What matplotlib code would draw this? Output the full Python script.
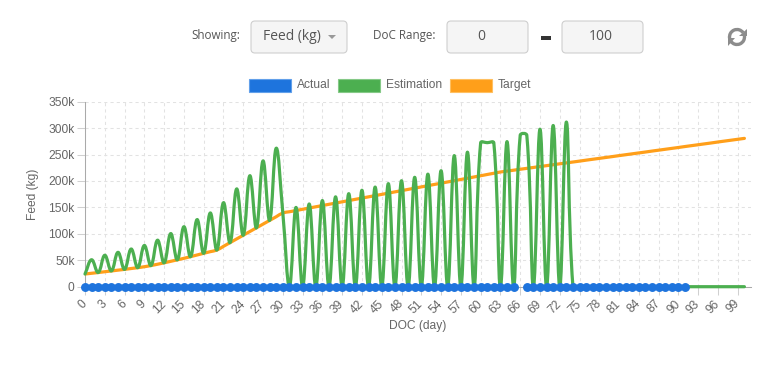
import numpy as np
import matplotlib
matplotlib.use("Agg")
import matplotlib.pyplot as plt
from matplotlib.path import Path
from matplotlib.patches import PathPatch, FancyBboxPatch, Rectangle, Arc, Polygon
from matplotlib.transforms import IdentityTransform

W, H = 777, 385

days = list(range(101))

# values, in thousands of kg
target_k = [24.0, 25.4, 26.8, 28.3, 29.8, 31.3, 32.8, 34.4, 36.0, 37.8,
            40.0, 42.5, 45.2, 48.0, 50.8, 53.7, 56.8, 60.0, 63.2, 66.3,
            69.4, 76.4, 83.4, 90.4, 97.4, 104.4, 111.4, 118.4, 125.4, 132.4,
            139.4, 141.8, 144.1, 146.5, 148.8, 151.2, 153.5, 155.9, 158.2, 160.6,
            162.9, 165.3, 167.6, 170.0, 172.3, 174.7, 177.0, 179.4, 181.7, 184.1,
            186.4, 188.8, 191.1, 193.5, 195.8, 198.2, 200.5, 202.9, 205.2, 207.6,
            209.9, 212.3, 214.6, 217.0, 218.7, 220.4, 222.2, 223.9, 225.6, 227.3,
            229.0, 230.8, 232.5, 234.2, 235.9, 237.6, 239.4, 241.1, 242.8, 244.5,
            246.2, 248.0, 249.7, 251.4, 253.1, 254.8, 256.6, 258.3, 260.0, 261.7,
            263.4, 265.2, 266.9, 268.6, 270.3, 272.0, 273.8, 275.5, 277.2, 278.9,
            280.6]

estimation_k = [24.0, 51.0, 26.8, 59.5, 29.8, 65.0, 32.8, 71.3, 36.0, 78.0,
                40.0, 88.0, 45.2, 100.5, 50.8, 113.5, 56.8, 127.0, 63.2, 139.5,
                69.4, 159.0, 83.4, 185.0, 97.4, 210.0, 111.4, 238.0, 125.4, 262.0,
                139.4, 0, 150.0, 0, 156.5, 0, 163.0, 0, 170.0, 0,
                176.0, 0, 182.5, 0, 188.5, 0, 195.0, 0, 200.5, 0,
                207.0, 0, 213.0, 0, 219.5, 0, 248.0, 0, 254.5, 0,
                272.0, 272.5, 272.0, 0, 274.5, 0, 286.5, 286.5, 0, 298.0,
                0, 305.0, 0, 311.5, 0, 0, 0, 0, 0, 0,
                0, 0, 0, 0, 0, 0, 0, 0, 0, 0,
                0, 0, 0, 0, 0, 0, 0, 0, 0, 0,
                0]

actual_k = [0] * 66 + [None] + [0] * 25 + [None] * 9

tick_days = list(range(0, 100, 3))
y_ticks = [0, 50000, 100000, 150000, 200000, 250000, 300000, 350000]
y_tick_labels = ["0", "50k", "100k", "150k", "200k", "250k", "300k", "350k"]

legend_names = ["Actual", "Estimation", "Target"]
colors = {"Actual": "#1E74DD", "Estimation": "#4CAF50", "Target": "#FF9F1A"}
edge_colors = {"Actual": "#62A0EA", "Estimation": "#85C987", "Target": "#FFC061"}

FONT = "Liberation Sans"
CTRL_FONT = "Open Sans"
GRAY = "#666666"
px = IdentityTransform()


def spline_path(ax, xs, ys, t=0.4):
    # chart.js style bezier smoothing, done in pixel space
    pts = ax.transData.transform(np.column_stack([xs, ys]))
    n = len(pts)
    cp_prev = pts.copy()
    cp_next = pts.copy()
    for i in range(n):
        p0 = pts[i - 1] if i > 0 else pts[i]
        p1 = pts[i]
        p2 = pts[i + 1] if i < n - 1 else pts[i]
        d01 = np.hypot(*(p1 - p0))
        d12 = np.hypot(*(p2 - p1))
        tot = d01 + d12
        s01 = d01 / tot if tot else 0
        s12 = d12 / tot if tot else 0
        cp_prev[i] = p1 - t * s01 * (p2 - p0)
        cp_next[i] = p1 + t * s12 * (p2 - p0)
    bb = ax.bbox
    for arr in (cp_prev, cp_next):
        arr[:, 0] = np.clip(arr[:, 0], bb.x0, bb.x1)
        arr[:, 1] = np.clip(arr[:, 1], bb.y0, bb.y1)
    verts = [pts[0]]
    codes = [Path.MOVETO]
    for i in range(1, n):
        verts += [cp_next[i - 1], cp_prev[i], pts[i]]
        codes += [Path.CURVE4] * 3
    verts = ax.transData.inverted().transform(np.array(verts))
    return Path(verts, codes)


fig = plt.figure(figsize=(W / 100, H / 100), dpi=100)
ax_left, ax_right, ax_top, ax_bottom = 85, 751, 101.7, 286.7
ax = fig.add_axes([ax_left / W, (H - ax_bottom) / H,
                   (ax_right - ax_left) / W, (ax_bottom - ax_top) / H])
ax.set_xlim(0, 101)
ax.set_ylim(0, 350000)

target = np.array(target_k) * 1000
estimation = np.array(estimation_k) * 1000
actual = np.array([np.nan if v is None else v * 1000 for v in actual_k])

ax.add_patch(PathPatch(spline_path(ax, days, target), fill=False,
                       edgecolor=colors["Target"], lw=2.3, zorder=3,
                       capstyle="round", joinstyle="round"))
ax.add_patch(PathPatch(spline_path(ax, days, estimation), fill=False,
                       edgecolor=colors["Estimation"], lw=2.3, zorder=4,
                       clip_on=False, capstyle="round", joinstyle="round"))
ax.plot(days, actual, color=colors["Actual"], lw=2, marker="o", ms=5.4,
        mec=colors["Actual"], mfc=colors["Actual"], zorder=5, clip_on=False)

ax.set_xticks(tick_days)
ax.set_xticklabels([str(d) for d in tick_days])
ax.set_yticks(y_ticks)
ax.set_yticklabels(y_tick_labels)
ax.tick_params(axis="both", length=6, width=0.75, color="#d0d0d0",
               labelcolor=GRAY, labelsize=8.64)
ax.tick_params(axis="y", pad=1.5)
ax.tick_params(axis="x", pad=5)
for lab in ax.get_xticklabels():
    lab.set_rotation(45)
    lab.set_ha("right")
    lab.set_va("center")
    lab.set_rotation_mode("anchor")
    lab.set_fontfamily(FONT)
for lab in ax.get_yticklabels():
    lab.set_fontfamily(FONT)

ax.set_axisbelow(True)
ax.grid(True, color="#e2e2e2", linestyle=(0, (3, 3)), lw=0.75)
for side in ("top", "right"):
    ax.spines[side].set_visible(False)
for side in ("left", "bottom"):
    ax.spines[side].set_color("#aaaaaa")
    ax.spines[side].set_linewidth(0.75)


def T(x, y, s, **kw):
    fig.text(x, H - y, s, transform=px, **kw)


# axis titles
T(33, 194, "Feed (kg)", rotation=90, ha="center", va="center",
  color=GRAY, fontsize=8.64, family=FONT)
T(418, 326, "DOC (day)", ha="center", va="center", color=GRAY,
  fontsize=8.64, family=FONT)

# legend
box_x = [249, 338, 450]
text_x = [297, 386, 498]
for name, bx, tx in zip(legend_names, box_x, text_x):
    fig.add_artist(Rectangle((bx, H - 91.5), 42, 13, transform=px,
                             facecolor=colors[name], edgecolor=edge_colors[name],
                             lw=0.8))
    T(tx, 85, name, ha="left", va="center", color=GRAY, fontsize=8.64,
      family=FONT)

# top controls
def box(x0, x1, y0, y1):
    fig.add_artist(FancyBboxPatch((x0, H - y1), x1 - x0, y1 - y0,
                                  boxstyle="round,pad=0,rounding_size=4",
                                  transform=px, facecolor="#f5f5f5",
                                  edgecolor="#cfcfcf", lw=0.8))


T(191, 36, "Showing:", ha="left", va="center", color="#555555",
  fontsize=8.4, family=CTRL_FONT)
box(251, 347, 21, 53)
T(263, 37, "Feed (kg)", ha="left", va="center", color="#555555",
  fontsize=10, family=CTRL_FONT)
fig.add_artist(Polygon([(328, H - 35), (336, H - 35), (332, H - 39)],
                       closed=True, transform=px, facecolor="#999999",
                       edgecolor="none"))
T(373, 36, "DoC Range:", ha="left", va="center", color="#555555",
  fontsize=8.4, family=CTRL_FONT)
box(447, 528, 21, 53)
T(481, 37, "0", ha="center", va="center", color="#555555",
  fontsize=10, family=CTRL_FONT)
fig.add_artist(Rectangle((541, H - 40), 10, 4, transform=px,
                         facecolor="#333333", edgecolor="none"))
box(562, 643, 21, 53)
T(601, 37, "100", ha="center", va="center", color="#555555",
  fontsize=10, family=CTRL_FONT)

# refresh icon
cx, cy, r = 737, H - 37, 7.5
icon = "#8c8c8c"
fig.add_artist(Arc((cx, cy), 2 * r, 2 * r, theta1=35, theta2=190,
                   transform=px, color=icon, lw=2.4))
fig.add_artist(Arc((cx, cy), 2 * r, 2 * r, theta1=215, theta2=370,
                   transform=px, color=icon, lw=2.4))
fig.add_artist(Polygon([(cx + 9.5, cy + 8.5), (cx + 9.5, cy + 1), (cx + 2, cy + 1)],
                       closed=True, transform=px, facecolor=icon, edgecolor="none"))
fig.add_artist(Polygon([(cx - 9.5, cy - 8.5), (cx - 9.5, cy - 1), (cx - 2, cy - 1)],
                       closed=True, transform=px, facecolor=icon, edgecolor="none"))

fig.savefig("out.png", dpi=100)
